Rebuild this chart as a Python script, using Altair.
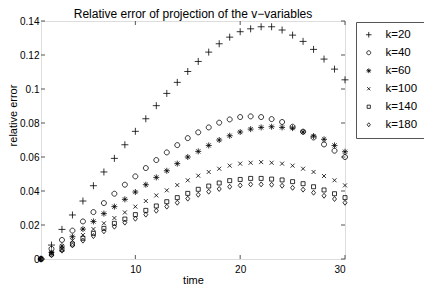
import altair as alt
import pandas as pd

# time steps
time = list(range(1, 31))

# relative error values per series
k20 = [0, 0.0082, 0.0174, 0.0259, 0.0341, 0.0431, 0.0512, 0.0592, 0.0672, 0.0751,
       0.0825, 0.0902, 0.0974, 0.1039, 0.1103, 0.1162, 0.1217, 0.1266, 0.1305, 0.1337,
       0.1354, 0.1366, 0.1366, 0.1347, 0.1317, 0.1280, 0.1233, 0.1176, 0.1117, 0.1054]
k40 = [0, 0.0060, 0.0112, 0.0167, 0.0221, 0.0276, 0.0329, 0.0384, 0.0437, 0.0486,
       0.0535, 0.0582, 0.0627, 0.0670, 0.0711, 0.0745, 0.0774, 0.0802, 0.0821, 0.0835,
       0.0839, 0.0835, 0.0823, 0.0806, 0.0778, 0.0749, 0.0715, 0.0674, 0.0637, 0.0600]
k60 = [0, 0.0039, 0.0076, 0.0131, 0.0176, 0.0221, 0.0267, 0.0308, 0.0351, 0.0394,
       0.0437, 0.0480, 0.0519, 0.0561, 0.0600, 0.0633, 0.0668, 0.0700, 0.0725, 0.0747,
       0.0764, 0.0774, 0.0778, 0.0774, 0.0770, 0.0747, 0.0723, 0.0704, 0.0668, 0.0631]
k100 = [0, 0.0033, 0.0057, 0.0108, 0.0141, 0.0176, 0.0210, 0.0241, 0.0274, 0.0308,
        0.0341, 0.0374, 0.0404, 0.0435, 0.0463, 0.0490, 0.0512, 0.0531, 0.0549, 0.0561,
        0.0566, 0.0570, 0.0566, 0.0561, 0.0549, 0.0531, 0.0512, 0.0488, 0.0463, 0.0433]
k140 = [0, 0.0029, 0.0057, 0.0088, 0.0122, 0.0151, 0.0180, 0.0210, 0.0235, 0.0261,
        0.0286, 0.0312, 0.0337, 0.0361, 0.0386, 0.0410, 0.0429, 0.0447, 0.0461, 0.0468,
        0.0474, 0.0474, 0.0470, 0.0465, 0.0455, 0.0443, 0.0425, 0.0406, 0.0384, 0.0361]
k180 = [0, 0.0022, 0.0049, 0.0080, 0.0108, 0.0135, 0.0163, 0.0190, 0.0214, 0.0237,
        0.0261, 0.0284, 0.0308, 0.0331, 0.0355, 0.0378, 0.0396, 0.0412, 0.0425, 0.0433,
        0.0439, 0.0439, 0.0437, 0.0431, 0.0419, 0.0408, 0.0390, 0.0372, 0.0353, 0.0331]

series_names = ["k=20", "k=40", "k=60", "k=100", "k=140", "k=180"]
series_vals = [k20, k40, k60, k100, k140, k180]

x_ticks = [10, 20, 30]
y_ticks = [0, 0.02, 0.04, 0.06, 0.08, 0.1, 0.12, 0.14]

# marker shapes (MATLAB style: + o * x square diamond)
shapes = [
    "M-0.7,0L0.7,0M0,-0.7L0,0.7",
    "M-0.5,0A0.5,0.5 0 1,0 0.5,0A0.5,0.5 0 1,0 -0.5,0",
    "M-0.6,0L0.6,0M0,-0.6L0,0.6M-0.42,-0.42L0.42,0.42M-0.42,0.42L0.42,-0.42",
    "M-0.4,-0.4L0.4,0.4M-0.4,0.4L0.4,-0.4",
    "M-0.4,-0.4L0.4,-0.4L0.4,0.4L-0.4,0.4Z",
    "M0,-0.5L0.4,0L0,0.5L-0.4,0Z",
]

rows = []
for name, vals in zip(series_names, series_vals):
    for t, v in zip(time, vals):
        rows.append({"time": t, "err": v, "series": name})
df = pd.DataFrame(rows)

W, H = 304, 238
FONT = "Liberation Sans"
FS = 11.5
TICK = 4
AXC = "#555555"

xaxis = alt.Axis(values=x_ticks, title="time", tickSize=0, domain=False,
                 grid=False, labelPadding=5, titleX=W / 2, titleY=21,
                 titleAlign="center", titleBaseline="middle",
                 titleFontWeight="normal")
yaxis = alt.Axis(values=y_ticks, format="~g", title="relative error",
                 tickSize=0, domain=False, grid=False, labelPadding=2,
                 titleX=-28, titleY=H / 2 - 25, titleAlign="center",
                 titleBaseline="middle", titleFontWeight="normal")
xscale = alt.Scale(domain=[1, 30], nice=False, zero=False)
yscale = alt.Scale(domain=[0, 0.14], nice=False)

points = alt.Chart(df).mark_point(
    filled=False, size=100, strokeWidth=0.8, color="black", opacity=1
).encode(
    x=alt.X("time:Q", scale=xscale, axis=xaxis),
    y=alt.Y("err:Q", scale=yscale, axis=yaxis),
    shape=alt.Shape("series:N", scale=alt.Scale(domain=series_names, range=shapes),
                    legend=alt.Legend(title=None, orient="none", legendX=315, legendY=1,
                                      strokeColor=AXC, padding=7, rowPadding=5,
                                      symbolSize=64, labelOffset=11,
                                      symbolStrokeColor="black", symbolStrokeWidth=0.8,
                                      symbolFillColor="transparent",
                                      labelFont=FONT, labelFontSize=FS,
                                      fillColor="white")),
)

ydf = pd.DataFrame({"err": y_ticks})
xdf = pd.DataFrame({"time": x_ticks})

ytick_l = alt.Chart(ydf).mark_rule(color=AXC, strokeWidth=1).encode(
    y=alt.Y("err:Q", scale=yscale, axis=yaxis), x=alt.value(0), x2=alt.value(TICK))
ytick_r = alt.Chart(ydf).mark_rule(color=AXC, strokeWidth=1).encode(
    y=alt.Y("err:Q", scale=yscale, axis=yaxis), x=alt.value(W - TICK), x2=alt.value(W))
xtick_b = alt.Chart(xdf).mark_rule(color=AXC, strokeWidth=1).encode(
    x=alt.X("time:Q", scale=xscale, axis=xaxis), y=alt.value(H), y2=alt.value(H - TICK))
xtick_t = alt.Chart(xdf).mark_rule(color=AXC, strokeWidth=1).encode(
    x=alt.X("time:Q", scale=xscale, axis=xaxis), y=alt.value(0), y2=alt.value(TICK))

chart = alt.layer(points, ytick_l, ytick_r, xtick_b, xtick_t).properties(
    width=W, height=H,
    title=alt.TitleParams("Relative error of projection of the v\u2212variables",
                          font=FONT, fontSize=12, fontWeight="normal",
                          anchor="middle", offset=1, dy=6, color="black"),
    autosize=alt.AutoSizeParams(type="none"),
    padding={"left": 33, "top": 13, "right": 79, "bottom": 25},
).configure_view(
    stroke=AXC, strokeWidth=1
).configure_axis(
    labelFont=FONT, labelFontSize=FS, labelColor="black",
    titleFont=FONT, titleFontSize=FS, titleFontWeight="normal", titleColor="black"
).configure(background="white")

chart.save("out.html", embed_options={"renderer": "svg", "actions": False})
